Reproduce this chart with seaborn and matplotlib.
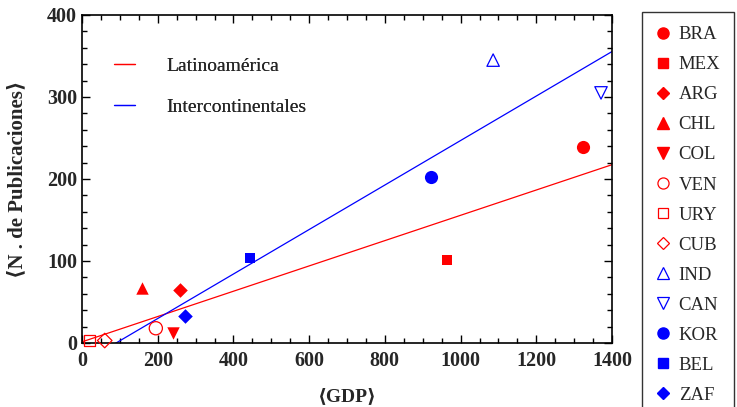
import numpy as np
import pandas as pd
import matplotlib
matplotlib.use("Agg")
import matplotlib.pyplot as plt
from matplotlib.ticker import MultipleLocator
from matplotlib.lines import Line2D
import seaborn as sns

# datos
paises = ["BRA", "MEX", "ARG", "CHL", "COL", "VEN", "URY", "CUB",
          "IND", "CAN", "KOR", "BEL", "ZAF"]
gdp = [1323, 964, 259, 158, 240, 195, 20, 60,
       1086, 1371, 922, 444, 272]
publicaciones = [239, 101, 65, 67, 12, 18, 3, 3,
                 345, 305, 202, 104, 33]
grupo = ["Latinoamérica"] * 8 + ["Intercontinentales"] * 5

marcadores = ["o", "s", "D", "^", "v", "o", "s", "D", "^", "v", "o", "s", "D"]
rellenos = [True, True, True, True, True, False, False, False, False, False, True, True, True]
colores = {"Latinoamérica": "#ff0000", "Intercontinentales": "#0000ff"}

df = pd.DataFrame({"pais": paises, "gdp": gdp, "pub": publicaciones, "grupo": grupo})

sns.set_style("ticks")
plt.rcParams["font.family"] = ["Liberation Serif", "DejaVu Serif"]

fig = plt.figure(figsize=(7.37, 4.07), dpi=100)
ax = fig.add_axes([82 / 737, 1 - 343 / 407, 530 / 737, 328 / 407])
ax.set_xlim(0, 1400)
ax.set_ylim(0, 400)

# rectas de ajuste
for g in ["Latinoamérica", "Intercontinentales"]:
    sns.regplot(data=df[df["grupo"] == g], x="gdp", y="pub", scatter=False, ci=None,
                truncate=False, color=colores[g], line_kws={"lw": 0.9}, ax=ax)

handles = []
for i, row in df.iterrows():
    c = colores[row["grupo"]]
    m = marcadores[i]
    tam = {"o": 90, "s": 55, "D": 55, "^": 80, "v": 80}[m]
    if rellenos[i]:
        sns.scatterplot(x=[row["gdp"]], y=[row["pub"]], marker=m, s=tam, color=c,
                        edgecolor=c, linewidth=0, ax=ax, legend=False, clip_on=False, zorder=3)
        handles.append(Line2D([], [], ls="", marker=m, markersize=8 if m in "o^v" else 6.5,
                              markerfacecolor=c, markeredgecolor=c, label=row["pais"]))
    else:
        sns.scatterplot(x=[row["gdp"]], y=[row["pub"]], marker=m, s=tam, facecolor="none",
                        edgecolor=c, linewidth=0.9, ax=ax, legend=False, clip_on=False, zorder=3)
        handles.append(Line2D([], [], ls="", marker=m, markersize=8 if m in "o^v" else 6.5,
                              markerfacecolor="none", markeredgecolor=c, markeredgewidth=0.9,
                              label=row["pais"]))

ax.set_xlim(0, 1400)
ax.set_ylim(0, 400)
ax.xaxis.set_major_locator(MultipleLocator(200))
ax.xaxis.set_minor_locator(MultipleLocator(50))
ax.yaxis.set_major_locator(MultipleLocator(100))
ax.yaxis.set_minor_locator(MultipleLocator(20))
ax.tick_params(which="both", direction="in", top=True, right=True, width=1, color="black")
ax.tick_params(which="major", length=6, labelsize=14.5)
ax.tick_params(axis="x", which="major", pad=6)
ax.tick_params(which="minor", length=3.5)
for lab in ax.get_xticklabels() + ax.get_yticklabels():
    lab.set_fontweight("bold")
for s in ax.spines.values():
    s.set_linewidth(1.2)
    s.set_color("black")

ax.set_xlabel("⟨GDP⟩", fontsize=14, fontweight="bold", labelpad=12)
ax.set_ylabel("⟨N . de Publicaciones⟩", fontsize=15, fontweight="bold", labelpad=14)

lineas = [Line2D([], [], color=colores[g], lw=0.9, label=g)
          for g in ["Latinoamérica", "Intercontinentales"]]
leg1 = ax.legend(handles=lineas, loc="upper left", bbox_to_anchor=(0.045, 0.895), frameon=False,
                 fontsize=14, handlelength=1.1, handletextpad=1.6, labelspacing=1.2,
                 borderaxespad=0)
ax.add_artist(leg1)

leg2 = fig.legend(handles=handles, loc="upper left", bbox_to_anchor=(642 / 737, 1 - 12 / 407),
                  fontsize=13.5, frameon=True, fancybox=False, edgecolor="black",
                  handletextpad=0.5, labelspacing=0.69, borderpad=0.75, handlelength=0.7,
                  borderaxespad=0)
leg2.get_frame().set_linewidth(1)

fig.savefig("out.png", dpi=100)
